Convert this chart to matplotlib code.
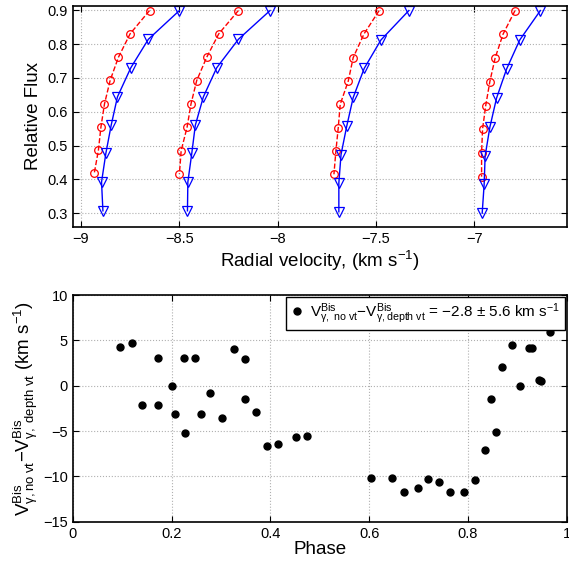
#! /usr/bin/env python3

import numpy as np
import matplotlib.pyplot as plt

plt.rcParams['font.family'] = ['Liberation Sans', 'DejaVu Sans']
plt.rcParams['mathtext.fontset'] = 'custom'
plt.rcParams['mathtext.rm'] = 'Liberation Sans'
plt.rcParams['mathtext.it'] = 'Liberation Sans:italic'
plt.rcParams['mathtext.bf'] = 'Liberation Sans:bold'

# bisector points, red = no vt, blue = depth dependent vt
red_flux = [
    [0.899, 0.830, 0.761, 0.693, 0.623, 0.555, 0.486, 0.418],
    [0.899, 0.830, 0.761, 0.692, 0.623, 0.554, 0.485, 0.416],
    [0.899, 0.830, 0.760, 0.691, 0.622, 0.553, 0.484, 0.415],
    [0.899, 0.829, 0.759, 0.689, 0.618, 0.549, 0.479, 0.408],
]
red_vel = [
    [-8.651, -8.750, -8.809, -8.851, -8.880, -8.898, -8.911, -8.932],
    [-8.199, -8.299, -8.360, -8.411, -8.440, -8.460, -8.490, -8.499],
    [-7.483, -7.560, -7.615, -7.640, -7.681, -7.691, -7.703, -7.713],
    [-6.792, -6.853, -6.893, -6.920, -6.941, -6.957, -6.962, -6.962],
]
blue_flux = [
    [0.899, 0.814, 0.730, 0.644, 0.560, 0.477, 0.392, 0.307],
    [0.899, 0.814, 0.730, 0.644, 0.560, 0.477, 0.392, 0.307],
    [0.899, 0.812, 0.728, 0.642, 0.557, 0.473, 0.389, 0.304],
    [0.899, 0.812, 0.726, 0.640, 0.554, 0.469, 0.385, 0.300],
]
blue_vel = [
    [-8.499, -8.657, -8.746, -8.814, -8.846, -8.873, -8.895, -8.888],
    [-8.038, -8.199, -8.309, -8.377, -8.418, -8.436, -8.456, -8.458],
    [-7.332, -7.474, -7.559, -7.615, -7.648, -7.677, -7.688, -7.688],
    [-6.663, -6.768, -6.835, -6.886, -6.920, -6.944, -6.949, -6.959],
]

phase = [0.0965, 0.119, 0.140, 0.1715, 0.1715, 0.2018, 0.206, 0.225, 0.228, 0.248,
         0.259, 0.277, 0.3025, 0.326, 0.3485, 0.3485, 0.3714, 0.3937, 0.416, 0.451,
         0.475, 0.604, 0.647, 0.670, 0.698, 0.720, 0.741, 0.764, 0.7915, 0.814,
         0.834, 0.846, 0.857, 0.8686, 0.890, 0.905, 0.924, 0.9287, 0.943, 0.948, 0.967]
dv = [4.27, 4.67, -2.13, 3.09, -2.16, -0.03, -3.08, 3.09, -5.25, 3.09,
      -3.08, -0.77, -3.53, 4.01, 2.98, -1.43, -2.90, -6.62, -6.46, -5.66,
      -5.51, -10.14, -10.14, -11.69, -11.31, -10.25, -10.62, -11.72, -11.72, -10.40,
      -7.12, -1.50, -5.14, 2.10, 4.52, 0.00, 4.16, 4.19, 0.60, 0.52, 5.95]


def matlab_style(ax):
    ax.tick_params(direction='in', top=True, right=True, labelsize=10.5, length=4, width=0.8)
    ax.grid(True, linestyle=':', color='#b0b0b0', linewidth=0.8)
    for s in ax.spines.values():
        s.set_linewidth(1.2)


fig = plt.figure(figsize=(5.69, 5.63), dpi=100)

ax1 = fig.add_axes([0.128, 0.597, 0.868, 0.3925])
for k in range(4):
    ax1.plot(red_vel[k], red_flux[k], '--o', color='red', mfc='none', ms=5.5, lw=1, mew=0.9)
    ax1.plot(blue_vel[k], blue_flux[k], '-v', color='blue', mfc='none', ms=6.5, lw=1, mew=0.9)
ax1.set_xlim(-9.041, -6.529)
ax1.set_ylim(0.2595, 0.9127)
ax1.set_xticks([-9, -8.5, -8, -7.5, -7])
ax1.set_xticklabels(['\u22129', '\u22128.5', '\u22128', '\u22127.5', '\u22127'])
ax1.set_yticks([0.3, 0.4, 0.5, 0.6, 0.7, 0.8, 0.9])
ax1.set_xlabel('Radial velocity, (km s$^{-1}$)', fontsize=13.5, labelpad=2)
ax1.set_ylabel('Relative Flux', fontsize=13.5)
matlab_style(ax1)

ax2 = fig.add_axes([0.128, 0.0733, 0.868, 0.4027])
ax2.plot(phase, dv, 'o', color='black', ms=5,
         label=r'$\mathrm{V}^{\mathrm{Bis}}_{\mathrm{γ,\ no\ vt}}\mathrm{-V}^{\mathrm{Bis}}_{\mathrm{γ,depth\ vt}}$'
               ' = \u22122.8 \u00b1 5.6 km s$^{-1}$')
ax2.set_xlim(0, 1)
ax2.set_ylim(-15, 10)
ax2.set_xticks([0, 0.2, 0.4, 0.6, 0.8, 1])
ax2.set_xticklabels(['0', '0.2', '0.4', '0.6', '0.8', '1'])
ax2.set_yticks([-15, -10, -5, 0, 5, 10])
ax2.set_yticklabels(['\u221215', '\u221210', '\u22125', '0', '5', '10'])
ax2.set_xlabel('Phase', fontsize=13.5, labelpad=0)
ax2.set_ylabel(r'$\mathrm{V}^{\mathrm{Bis}}_{\mathrm{γ,no\ vt}}\mathrm{-V}^{\mathrm{Bis}}_{\mathrm{γ,\ depth\ vt}}\ \mathrm{(km\ s^{-1})}$',
               fontsize=13.5, labelpad=2)
leg = ax2.legend(loc='upper right', fontsize=11, handlelength=0.8, handletextpad=0.5,
                 borderpad=0.3, borderaxespad=0.1, fancybox=False, framealpha=1,
                 edgecolor='black')
leg.get_frame().set_linewidth(1.0)
matlab_style(ax2)

fig.savefig('out.png', dpi=100)
